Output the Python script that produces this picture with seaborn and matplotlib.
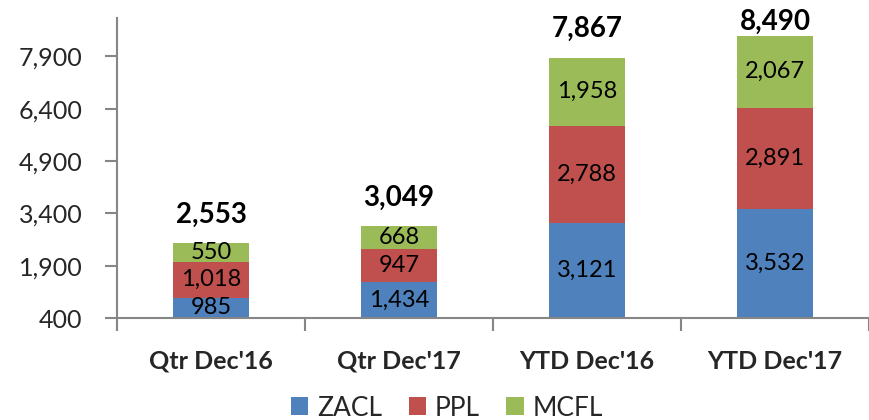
import numpy as np
import pandas as pd
import seaborn as sns
import matplotlib.pyplot as plt
from matplotlib.ticker import FuncFormatter, FixedLocator

# Data
periods = ["Qtr Dec'16", "Qtr Dec'17", "YTD Dec'16", "YTD Dec'17"]
zacl = [985, 1434, 3121, 3532]
ppl = [1018, 947, 2788, 2891]
mcfl = [550, 668, 1958, 2067]
totals = [2553, 3049, 7867, 8490]

series_names = ["ZACL", "PPL", "MCFL"]
series_colors = {"ZACL": "#4F81BD", "PPL": "#C0504D", "MCFL": "#9BBB59"}

df = pd.DataFrame({"period": periods, "ZACL": zacl, "PPL": ppl, "MCFL": mcfl})
df["cum_zacl"] = df["ZACL"]
df["cum_ppl"] = df["ZACL"] + df["PPL"]
df["cum_mcfl"] = df["cum_ppl"] + df["MCFL"]

sns.set_style("white")
plt.rcParams["font.family"] = ["Lato", "DejaVu Sans"]

fig = plt.figure(figsize=(8.69, 4.2), dpi=100)
ax = fig.add_axes([117 / 869, 1 - 318 / 420, 752 / 869, 300 / 420])

# Draw stacked bars by overlaying cumulative heights (tallest first)
for col, name in [("cum_mcfl", "MCFL"), ("cum_ppl", "PPL"), ("cum_zacl", "ZACL")]:
    sns.barplot(data=df, x="period", y=col, color=series_colors[name], width=0.4,
                saturation=1, linewidth=0, ax=ax, label=name)
if ax.get_legend() is not None:
    ax.get_legend().remove()

ax.set_xlim(-0.5, 3.5)
ax.set_ylim(400, 9000)
ax.set_yticks(np.arange(400, 7901, 1500))
ax.yaxis.set_major_formatter(FuncFormatter(lambda v, p: f"{int(v):,}"))

# Segment labels
for i in range(len(periods)):
    bottoms = [0, zacl[i], zacl[i] + ppl[i]]
    for b, v in zip(bottoms, [zacl[i], ppl[i], mcfl[i]]):
        lo = max(b, 400)
        ax.text(i, (lo + b + v) / 2, f"{v:,}", ha="center", va="center",
                fontsize=17, color="black")
    # total above the bar, pushed down when it would run off the top
    ax.text(i, min(totals[i] + 580, 8650), f"{totals[i]:,}", ha="center",
            va="baseline", fontsize=20, fontweight="bold", color="black")

# Axes styling
for s in ["top", "right"]:
    ax.spines[s].set_visible(False)
for s in ["left", "bottom"]:
    ax.spines[s].set_color("#868686")
    ax.spines[s].set_linewidth(1.5)

ax.tick_params(axis="y", direction="out", length=9, width=1.5, color="#868686",
               labelsize=18, pad=16, left=True)
ax.tick_params(axis="x", which="major", length=0, labelsize=18, pad=23)
ax.xaxis.set_minor_locator(FixedLocator([-0.5, 0.5, 1.5, 2.5, 3.5]))
ax.tick_params(axis="x", which="minor", direction="out", length=9, width=1.5,
               color="#868686", bottom=True)
for lbl in ax.get_xticklabels():
    lbl.set_fontweight("bold")
ax.set_xlabel("")
ax.set_ylabel("")

# Legend in series order
handles, labels = ax.get_legend_handles_labels()
order = [labels.index(n) for n in series_names]
fig.legend([handles[k] for k in order], series_names, loc="center",
           bbox_to_anchor=(447 / 869, 1 - 408 / 420), ncol=3, frameon=False,
           fontsize=19, handlelength=0.65, handleheight=0.65, handletextpad=0.35,
           columnspacing=1.0, borderpad=0)

fig.savefig("out.png", dpi=100)
